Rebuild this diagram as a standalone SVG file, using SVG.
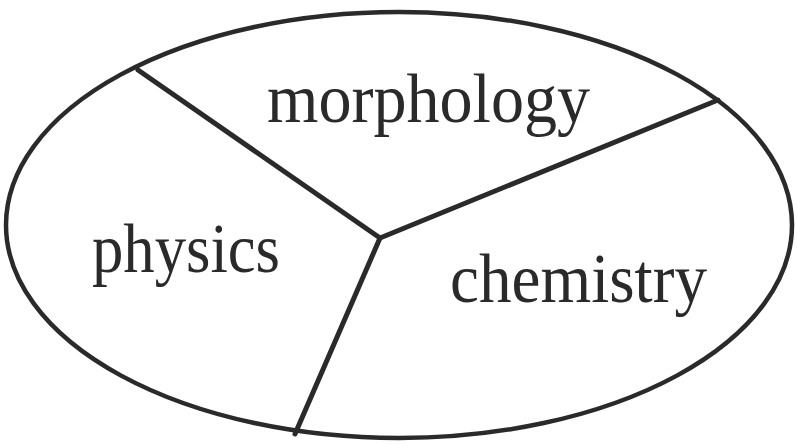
<svg xmlns="http://www.w3.org/2000/svg" width="797" height="445" viewBox="0 0 797 445">
<style>
.outline{fill:none;stroke:#2a2a2a;stroke-width:4.5}
.div{fill:none;stroke:#2a2a2a;stroke-width:5;stroke-linecap:round;stroke-linejoin:round}
.lbl{font-family:"Liberation Serif","Times New Roman",serif;font-size:69px;fill:#2a2a2a}
</style>
<rect width="797" height="445" fill="#ffffff"/>
<g id="ellipse"><ellipse class="outline" cx="399" cy="225" rx="393" ry="213"/></g>
<g id="connectors">
<line class="div" x1="380" y1="238" x2="138" y2="70"/>
<line class="div" x1="380" y1="238" x2="718" y2="100"/>
<line class="div" x1="380" y1="238" x2="295" y2="434"/>
</g>
<g id="morphology"><text class="lbl" x="267" y="122" textLength="323" lengthAdjust="spacingAndGlyphs">morphology</text></g>
<g id="physics"><text class="lbl" x="92" y="272" textLength="188" lengthAdjust="spacingAndGlyphs">physics</text></g>
<g id="chemistry"><text class="lbl" x="450" y="302" textLength="257" lengthAdjust="spacingAndGlyphs">chemistry</text></g>
</svg>
